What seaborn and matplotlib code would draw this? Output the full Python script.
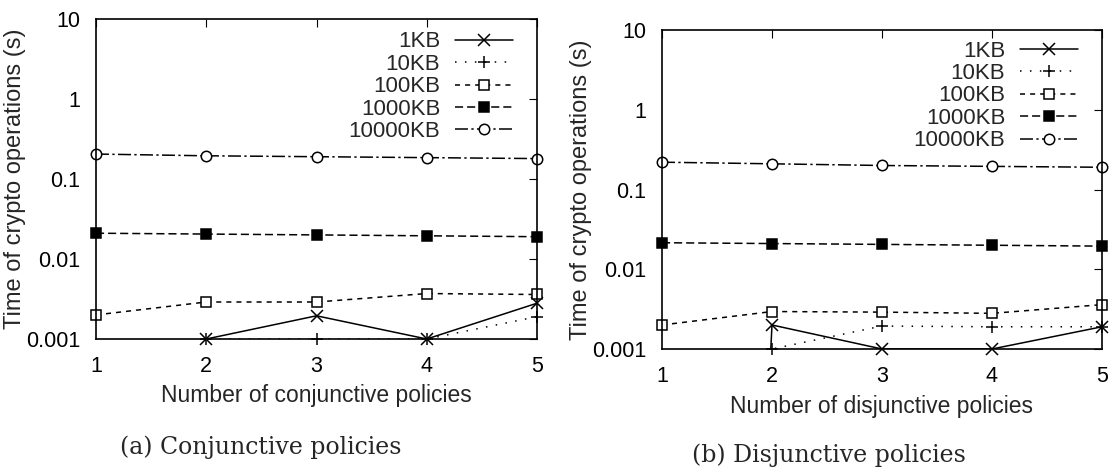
import matplotlib
matplotlib.use("Agg")
import matplotlib.pyplot as plt
from matplotlib.lines import Line2D
import numpy as np
import pandas as pd
import seaborn as sns

policies = [1, 2, 3, 4, 5]
sizes = ["1KB", "10KB", "100KB", "1000KB", "10000KB"]

# conjunctive policies (1e-30 = too small to show, the line drops off the axis)
conj_1kb = [1e-30, 0.001, 0.00195, 0.001, 0.0028]
conj_10kb = [1e-30, 0.001, 0.001, 0.001, 0.0019]
conj_100kb = [0.002, 0.0029, 0.0029, 0.0037, 0.0036]
conj_1000kb = [0.021, 0.0205, 0.02, 0.0195, 0.019]
conj_10000kb = [0.205, 0.195, 0.19, 0.185, 0.18]

# disjunctive policies
disj_1kb = [1e-30, 0.002, 0.001, 0.001, 0.0019]
disj_10kb = [1e-30, 0.001, 0.00194, 0.0019, 0.0019]
disj_100kb = [0.002, 0.00295, 0.0029, 0.0028, 0.0036]
disj_1000kb = [0.0215, 0.021, 0.0205, 0.02, 0.0195]
disj_10000kb = [0.22, 0.21, 0.2, 0.195, 0.19]

styles = {
    "1KB": dict(ls="-", marker="x", mfc="black", ms=8),
    "10KB": dict(ls=(0, (1, 5.5)), marker="+", mfc="black", ms=9),
    "100KB": dict(ls=(0, (3.3, 3.3)), marker="s", mfc="white", ms=7.5),
    "1000KB": dict(ls=(0, (5.3, 2.6)), marker="s", mfc="black", ms=7.5),
    "10000KB": dict(ls=(0, (8.5, 2.2, 1.5, 2.2)), marker="o", mfc="white", ms=7.5),
}

sns.set_style("white")
plt.rcParams["font.family"] = ["Liberation Sans", "DejaVu Sans"]
plt.rcParams["path.simplify"] = False

W, H = 1109, 474
fig = plt.figure(figsize=(W / 100, H / 100), dpi=100)


def draw(ax, series, xlabel, labelpad, legend_y):
    handles = []
    for name, vals in zip(sizes, series):
        st = styles[name]
        df = pd.DataFrame({"x": policies, "y": vals})
        # line, clipped by the axes
        sns.lineplot(data=df, x="x", y="y", ax=ax, color="black", lw=1.1,
                     linestyle=st["ls"])
        # markers for the points inside the range, not clipped
        shown = df[df["y"] >= 0.001]
        sns.lineplot(data=shown, x="x", y="y", ax=ax, color="black",
                     linestyle="", marker=st["marker"], markersize=st["ms"],
                     markerfacecolor=st["mfc"], markeredgecolor="black",
                     markeredgewidth=1.1, clip_on=False)
        handles.append(Line2D([], [], color="black", lw=1.1, linestyle=st["ls"],
                              marker=st["marker"], markersize=st["ms"],
                              markerfacecolor=st["mfc"],
                              markeredgecolor="black", markeredgewidth=1.1,
                              label=name))
    ax.set_yscale("log")
    ax.set_ylim(0.001, 10)
    ax.set_xlim(1, 5)
    ax.set_xticks(policies)
    ax.set_yticks([0.001, 0.01, 0.1, 1, 10])
    ax.set_yticklabels(["0.001", "0.01", "0.1", "1", "10"])
    ax.minorticks_off()
    ax.tick_params(direction="in", top=True, right=True, length=6,
                   labelsize=15.5, colors="black")
    ax.tick_params(axis="y", pad=11.5)
    ax.tick_params(axis="x", pad=12.5)
    ax.set_xlabel(xlabel, fontsize=16.5, labelpad=labelpad)
    ax.set_ylabel("Time of crypto operations (s)", fontsize=17, labelpad=0)
    for s in ax.spines.values():
        s.set_color("black")
        s.set_linewidth(1.2)
    ax.legend(handles=handles, loc="upper right", frameon=False,
              markerfirst=False, fontsize=16, handlelength=2.6,
              labelspacing=0.065, borderpad=0, borderaxespad=0,
              handletextpad=0.68, bbox_to_anchor=(0.946, legend_y))


ax1 = fig.add_axes([96 / W, 1 - 339 / H, 441 / W, 320 / H])
draw(ax1, [conj_1kb, conj_10kb, conj_100kb, conj_1000kb, conj_10000kb],
     "Number of conjunctive policies", 4.7, 0.961)

ax2 = fig.add_axes([662 / W, 1 - 349 / H, 440 / W, 319 / H])
draw(ax2, [disj_1kb, disj_10kb, disj_100kb, disj_1000kb, disj_10000kb],
     "Number of disjunctive policies", 5.5, 0.967)

fig.text(120 / W, 1 - 447 / H, "(a) Conjunctive policies",
         family="DejaVu Serif", fontsize=17, va="center")
fig.text(692 / W, 1 - 455 / H, "(b) Disjunctive policies",
         family="DejaVu Serif", fontsize=17, va="center")

fig.savefig("out.png", dpi=100)
